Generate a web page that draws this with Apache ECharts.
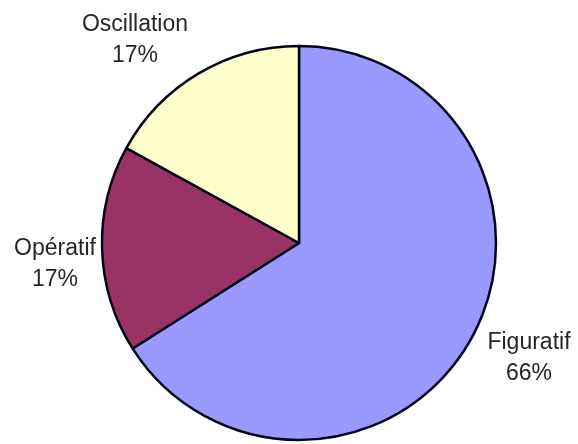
<!DOCTYPE html>
<html>
<head>
<meta charset="utf-8">
<script src="https://cdn.jsdelivr.net/npm/echarts@6/dist/echarts.min.js"></script>
<style>
  html, body { margin: 0; padding: 0; background: #ffffff; }
  #chart { width: 578px; height: 444px; }
</style>
</head>
<body>
<div id="chart"></div>
<script>
// Share of each category (percent)
const categories = ['Figuratif', 'Opératif', 'Oscillation'];
const shares = [66, 17, 17];
const sliceColors = ['#9999FF', '#993366', '#FFFFCC'];

// Pie geometry
const pieCenter = [299, 243];
const pieRadius = 197;
// Where each label block sits, relative to the pie centre
const labelOffsets = [[230, 115], [-244, 21], [-164, -203]];

const chart = echarts.init(document.getElementById('chart'), null, { renderer: 'canvas' });

const data = categories.map((name, i) => ({
  name: name,
  value: shares[i],
  itemStyle: { color: sliceColors[i] }
}));

chart.setOption({
  backgroundColor: '#ffffff',
  animation: false,
  series: [{
    type: 'pie',
    center: pieCenter,
    radius: pieRadius,
    startAngle: 90,
    clockwise: true,
    avoidLabelOverlap: false,
    itemStyle: { borderColor: '#05051a', borderWidth: 2.5 },
    label: {
      show: true,
      position: 'outside',
      formatter: '{b}\n{c}%',
      fontFamily: 'Liberation Sans, Arial, sans-serif',
      fontSize: 23,
      lineHeight: 31,
      color: '#262626',
      align: 'center'
    },
    labelLine: { show: false },
    labelLayout: function (params) {
      const off = labelOffsets[params.dataIndex];
      return {
        x: pieCenter[0] + off[0],
        y: pieCenter[1] + off[1],
        align: 'center',
        verticalAlign: 'middle'
      };
    },
    emphasis: { disabled: true },
    data: data
  }]
});
</script>
</body>
</html>
